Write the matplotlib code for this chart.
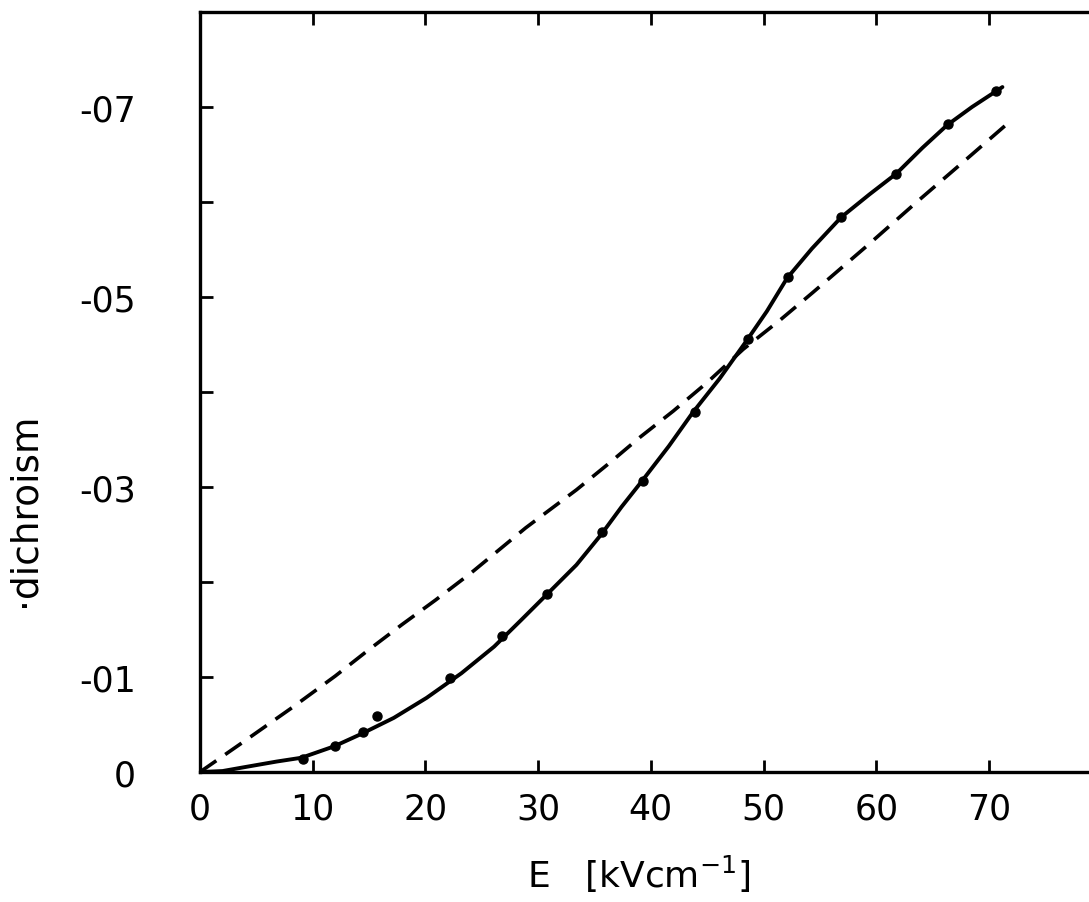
import matplotlib
matplotlib.use("Agg")
import matplotlib.pyplot as plt

field_pts = [9.1, 12.0, 14.5, 15.7, 22.2, 26.8, 30.8, 35.7, 39.3, 43.9,
             48.6, 52.2, 56.9, 61.8, 66.4, 70.6]
dich_pts = [0.014, 0.027, 0.042, 0.059, 0.099, 0.143, 0.187, 0.253, 0.306,
            0.379, 0.456, 0.521, 0.584, 0.629, 0.682, 0.717]

# solid (fitted) curve
curve_x = [0.0, 2.0, 3.9, 6.8, 9.0, 11.9, 14.3, 17.2, 20.1, 23.2, 26.1,
           28.5, 30.7, 33.4, 35.6, 37.4, 39.2, 41.6, 43.7, 46.1, 48.5,
           50.3, 52.1, 54.3, 56.9, 59.4, 61.8, 64.1, 66.3, 68.5, 71.2]
curve_y = [0.0, 0.001, 0.005, 0.011, 0.015, 0.027, 0.040, 0.057, 0.078,
           0.104, 0.132, 0.160, 0.186, 0.218, 0.250, 0.279, 0.306, 0.343,
           0.378, 0.414, 0.454, 0.485, 0.520, 0.551, 0.584, 0.608, 0.630,
           0.657, 0.681, 0.700, 0.721]

# dashed curve
dash_x = [0.0, 3.4, 8.2, 12.0, 14.9, 17.9, 20.9, 24.1, 28.9, 33.4, 36.2,
          39.0, 42.0, 45.0, 48.2, 51.5, 54.4, 59.2, 63.6, 68.1, 71.6]
dash_y = [0.0, 0.028, 0.068, 0.101, 0.128, 0.155, 0.181, 0.210, 0.257,
          0.297, 0.324, 0.352, 0.380, 0.410, 0.445, 0.476, 0.505, 0.554,
          0.600, 0.646, 0.682]

x_ticks = [0, 10, 20, 30, 40, 50, 60, 70, 80]
x_labels = ["0", "10", "20", "30", "40", "50", "60", "70", ""]
y_ticks = [0.0, 0.1, 0.2, 0.3, 0.4, 0.5, 0.6, 0.7, 0.8]
y_labels = ["0", "-01", "", "-03", "", "-05", "", "-07", ""]

W, H = 1089, 903
fig = plt.figure(figsize=(W / 100, H / 100), dpi=100)
# right spine (E = 80) falls just outside the cropped scan
ax = fig.add_axes([200 / W, (H - 773) / H, 901.6 / W, 760 / H])

ax.plot(curve_x, curve_y, color="black", lw=2.8, solid_capstyle="round")
ax.plot(field_pts, dich_pts, "o", color="black", ms=6.5)
ax.plot(dash_x, dash_y, color="black", lw=2.6, dashes=(5.5, 3))

ax.set_xlim(0, 80)
ax.set_ylim(0, 0.8)
ax.set_xticks(x_ticks)
ax.set_xticklabels(x_labels)
ax.set_yticks(y_ticks)
ax.set_yticklabels(y_labels)

ax.tick_params(direction="in", length=9, width=2, labelsize=25,
               top=True, right=True)
ax.tick_params(axis="x", pad=14)
ax.tick_params(axis="y", pad=46)
for s in ax.spines.values():
    s.set_linewidth(2.4)

ax.set_xlabel("E   [kVcm$^{-1}$]", fontsize=26)
ax.xaxis.set_label_coords(0.487, -0.106)
ax.set_ylabel("·dichroism", fontsize=27)
ax.yaxis.set_label_coords(-0.175, 0.346)

fig.savefig("out.png", dpi=100)
